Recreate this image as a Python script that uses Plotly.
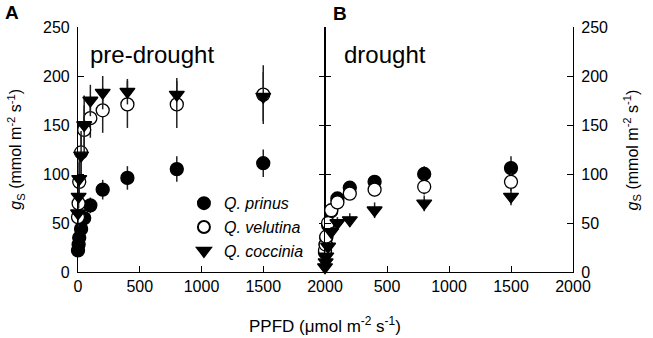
import plotly.graph_objects as go

# PPFD levels (umol m-2 s-1)
ppfd = [0, 5, 10, 25, 50, 100, 200, 400, 800, 1500]

# Pre-drought gs (mmol m-2 s-1)
pre_prinus = [22, 28, 35, 44, 55, 68, 84, 96, 105, 111]
pre_prinus_err = [3, 3, 4, 5, 6, 8, 10, 12, 13, 14]
pre_velutina = [56, 70, 92, 122, 145, 157, 165, 171, 171, 181]
pre_velutina_err = [10, 12, 20, 29, 25, 20, 23, 24, 24, 30]
pre_coccinia = [60, 77, 95, 119, 150, 175, 183, 184, 181, 179]
pre_coccinia_err = [10, 12, 20, 25, 30, 16, 17, 13, 17, 25]

# Drought gs (mmol m-2 s-1)
dr_prinus = [20, 28, 35, 48, 62, 75, 86, 92, 100, 106]
dr_prinus_err = [3, 3, 4, 5, 6, 6, 6, 7, 8, 12]
dr_velutina = [22, 28, 36, 50, 63, 71, 80, 84, 87, 92]
dr_velutina_err = [3, 3, 4, 5, 5, 6, 6, 7, 8, 9]
dr_coccinia = [5, 10, 16, 26, 41, 50, 53, 63, 70, 77]
dr_coccinia_err = [2, 3, 3, 4, 5, 6, 7, 8, 8, 9]

species = ["Q. prinus", "Q. velutina", "Q. coccinia"]
x_ticks_left = [0, 500, 1000, 1500, 2000]
x_ticks_right = [500, 1000, 1500, 2000]
y_ticks = [0, 50, 100, 150, 200, 250]

FONT = "Liberation Sans, Arial, sans-serif"
styles = [
    dict(symbol="circle", color="black", line=dict(color="black", width=1.3)),
    dict(symbol="circle", color="white", line=dict(color="black", width=1.3)),
    dict(symbol="triangle-down", color="black", line=dict(color="black", width=1.3)),
]

fig = go.Figure()
panels = [
    ("x", "y", [pre_prinus, pre_velutina, pre_coccinia],
     [pre_prinus_err, pre_velutina_err, pre_coccinia_err], True),
    ("x2", "y2", [dr_prinus, dr_velutina, dr_coccinia],
     [dr_prinus_err, dr_velutina_err, dr_coccinia_err], False),
]
for xa, ya, vals, errs, show in panels:
    for i, name in enumerate(species):
        fig.add_trace(go.Scatter(
            x=ppfd, y=vals[i], mode="markers", xaxis=xa, yaxis=ya,
            name="<i>" + name + "</i>", legendgroup=name, showlegend=show,
            marker=dict(size=13, **styles[i]),
            error_y=dict(type="data", array=errs[i], color="#222222",
                         thickness=1.5, width=0),
            cliponaxis=False,
        ))

axis_common = dict(showline=True, linecolor="black", linewidth=1.2,
                   ticks="inside", ticklen=6, tickcolor="black", tickwidth=1.2,
                   showgrid=False, zeroline=False,
                   tickfont=dict(family=FONT, size=16, color="black"))
dom = (325 - 78) / (573 - 78)
fig.update_layout(
    width=653, height=338,
    margin=dict(l=78, r=80, t=27, b=66),
    plot_bgcolor="white", paper_bgcolor="white",
    font=dict(family=FONT, color="black"),
    xaxis=dict(domain=[0, dom], range=[0, 2000], tickvals=x_ticks_left,
               anchor="y", **axis_common),
    yaxis=dict(range=[0, 250], tickvals=y_ticks, anchor="x", mirror="ticks",
               ticklabelstandoff=4, **axis_common),
    xaxis2=dict(domain=[dom, 1], range=[0, 2000], tickvals=x_ticks_right,
                anchor="y2", **axis_common),
    yaxis2=dict(range=[0, 250], tickvals=y_ticks, anchor="x2", side="right",
                mirror="ticks", ticklabelstandoff=4, **axis_common),
    legend=dict(x=0.214, y=0.35, xanchor="left", yanchor="top",
                bgcolor="rgba(0,0,0,0)",
                font=dict(family=FONT, size=16, color="black"),
                itemsizing="constant", tracegroupgap=0),
    showlegend=True,
)

ytitle = "<i>g</i><sub>S</sub> (mmol m<sup>-2</sup> s<sup>-1</sup>)"
ann = [
    dict(x=-0.127, y=0.5, text=ytitle, textangle=-90, font=dict(size=16)),
    dict(x=1.119, y=0.5, text=ytitle, textangle=-90, font=dict(size=16)),
    dict(x=0.499, y=-0.216, text="PPFD (\u03bcmol m<sup>-2</sup> s<sup>-1</sup>)",
         font=dict(size=17)),
    dict(x=-0.133, y=1.061, text="<b>A</b>", font=dict(size=19)),
    dict(x=0.529, y=1.057, text="<b>B</b>", font=dict(size=19)),
    dict(x=0.02, y=0.888, text="pre-drought", xanchor="left", font=dict(size=24)),
    dict(x=0.533, y=0.888, text="drought", xanchor="left", font=dict(size=24)),
]
for a in ann:
    a.setdefault("xanchor", "center")
    a.update(xref="paper", yref="paper", yanchor="middle", showarrow=False)
    a["font"] = dict(family=FONT, color="black", **a["font"])
    fig.add_annotation(**a)

fig.write_html("out.html", config={"displayModeBar": False}, post_script=[
    "document.body.style.margin='0';document.body.style.overflow='hidden';"
    "window.dispatchEvent(new Event('resize'));"
])
